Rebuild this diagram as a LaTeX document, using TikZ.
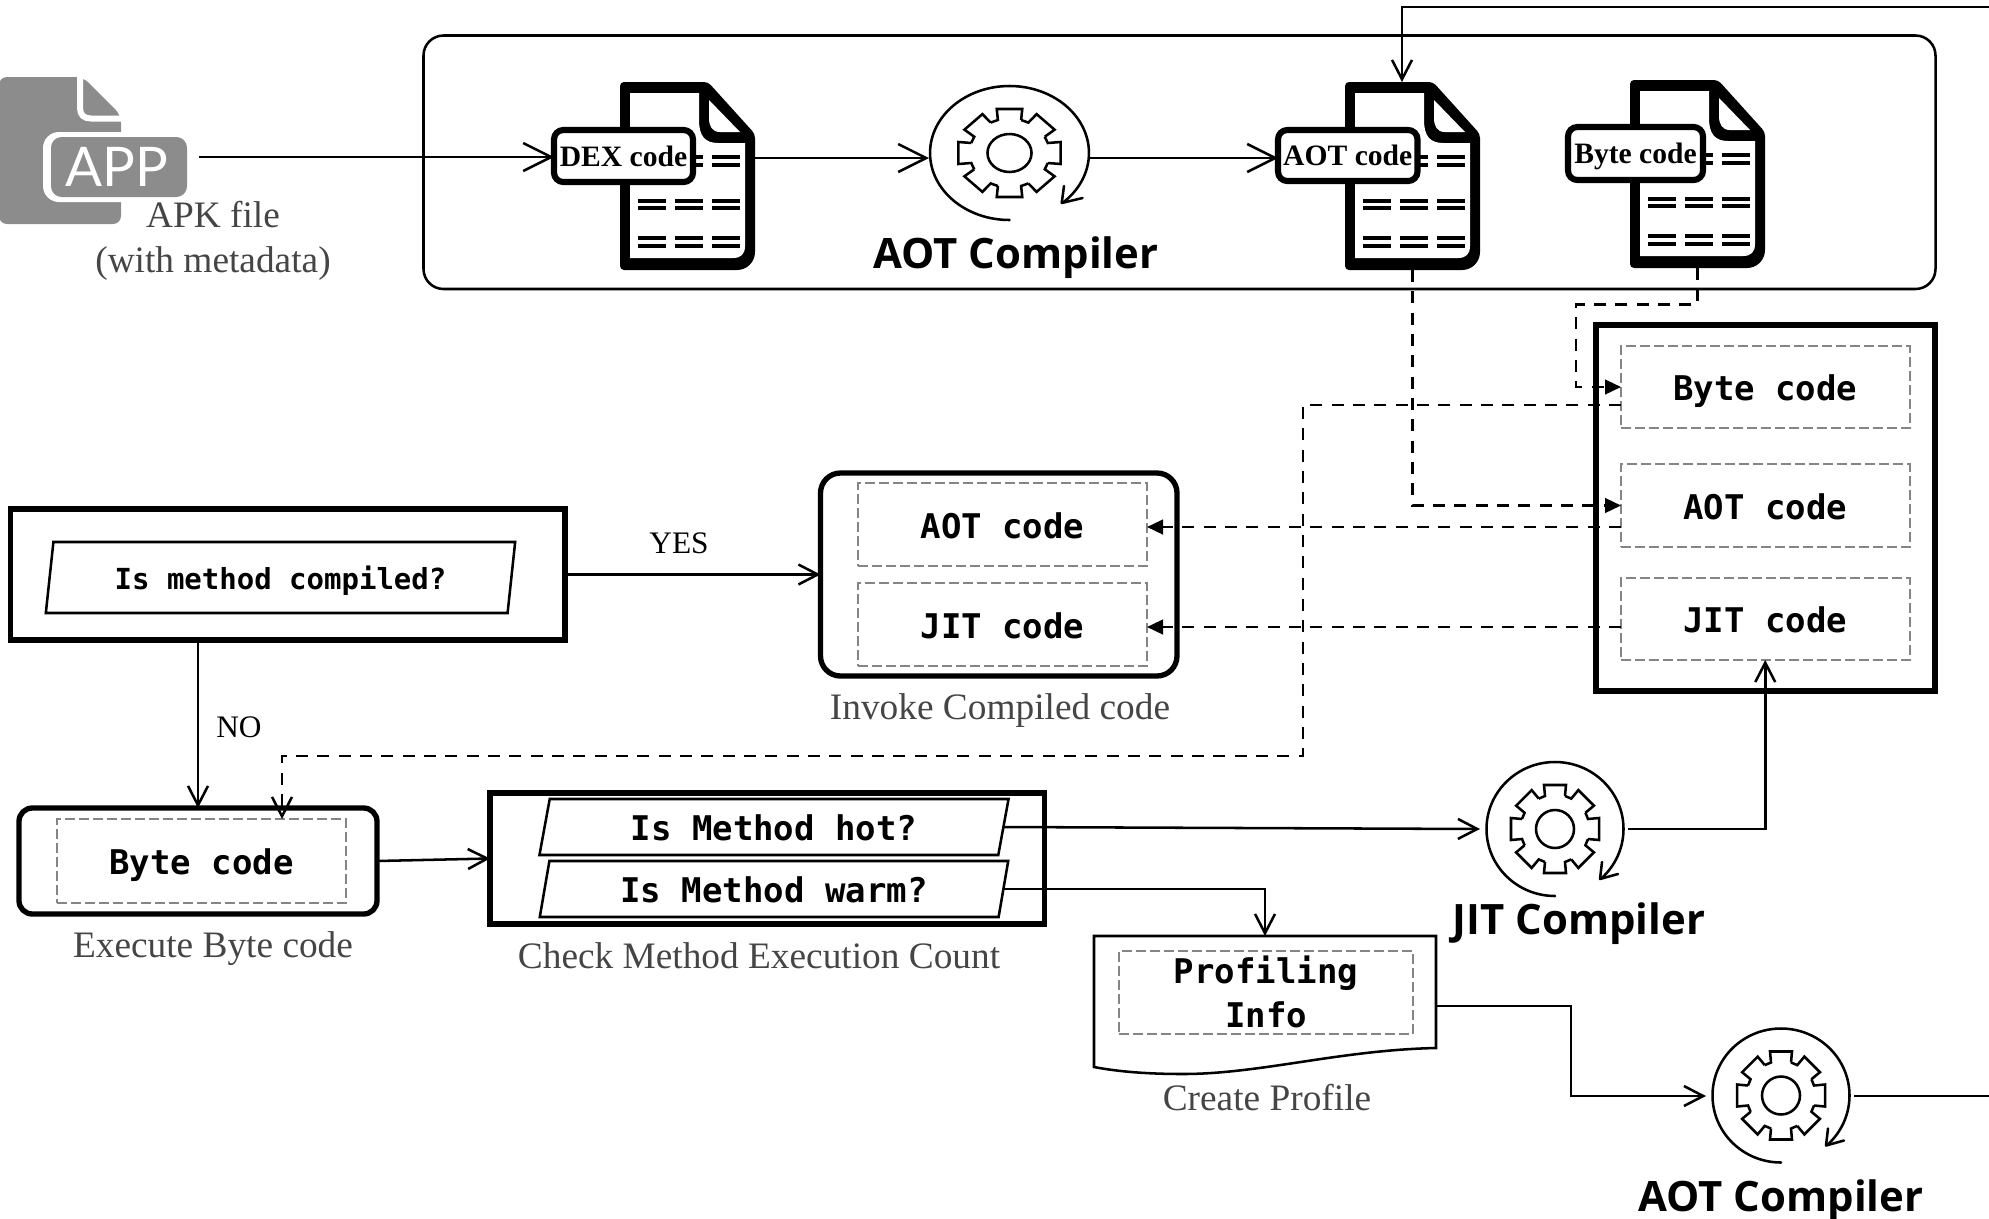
\documentclass[tikz,border=0pt]{standalone}
\usepackage{fontspec}
\usetikzlibrary{arrows.meta,shapes.geometric}
\setmainfont{Liberation Serif}
\newfontfamily\monof{DejaVu Sans Mono}
\newfontfamily\sansf{Open Sans}
\newfontfamily\latof{Lato}
\definecolor{capgray}{HTML}{454545}
\definecolor{icongray}{HTML}{8C8C8C}
\definecolor{dashgray}{HTML}{858585}
\newcommand\bx[7][]{\node[#1,minimum width={(#5-(#3))*0.75pt},minimum height={(#6-(#4))*0.75pt}] (#2) at ({(#3+#5)/2},{(#4+#6)/2}) {#7};}
\newcommand\docicon[2]{\begin{scope}[shift={(#1,#2)}]
 \fill[rounded corners=3pt] (0,0) -- (88,0) -- (135,52) -- (135,166) .. controls (135,180) and (127,188) .. (113,188) -- (0,188) -- cycle;
 \fill[white] (10,11) -- (79,11) -- (79,38) .. controls (79,54) and (85,61) .. (98,61) -- (125,61) -- (125,164) .. controls (125,172) and (121,176) .. (113,176) -- (10,176) -- cycle;
 \fill[white] (89,18) -- (120,50) -- (100,50) .. controls (92,50) and (89,44) .. (89,36) -- cycle;
 \foreach \yy in {75,83,119,126,156,164}{\foreach \xx in {18,55,92}{\draw[line width=2.6pt] (\xx,\yy) -- ++(28,0);}}
\end{scope}}
\newcommand\gearicon[3]{\begin{scope}[shift={(#1,#2)},xscale=#3]
 \foreach \a in {0,45,...,315}{
  \draw[geart,line join=miter] ([rotate=\a]33,10) -- ([rotate=\a]44,11) -- ([rotate=\a]44,-11) -- ([rotate=\a]33,-10) -- ([rotate=\a+45]33,10);
 }
 \draw[geart] (0,0) ellipse [x radius=19,y radius=19];
 \draw[geart,line cap=round] (0,67) arc [start angle=90,end angle=408,x radius=68.5,y radius=67];
 \draw[geart,line cap=round,line join=round] (63,45) -- (45,50) -- (47,33);
\end{scope}}
\tikzset{
 geart/.style={line width=1.9pt},
 conn/.style={line width=1.9pt,draw=black},
 bigtip/.style={-{Straight Barb[length=21pt,width=21pt,line width=1.9pt]}},
 smalltip/.style={-{Straight Barb[length=14.5pt,width=15pt,line width=1.9pt]}},
 dashc/.style={line width=1.8pt,dash pattern=on 9pt off 7pt},
 filltip/.style={-{Triangle[length=12pt,width=11pt]}},
 plain/.style={inner sep=0pt,outer sep=0pt},
 heavy/.style={plain,draw,line width=4pt},
 heavyr/.style={plain,draw,line width=4pt,rounded corners=15pt},
 heavys/.style={plain,draw,line width=4pt,rounded corners=10pt},
 inbox/.style={plain,draw=dashgray,line width=1.5pt,dash pattern=on 7.5pt off 3pt},
 para/.style={plain,draw,line width=1.9pt,shape=trapezium,trapezium left angle=76.5,trapezium right angle=103.5,trapezium stretches=true},
 codebig/.style={text height=20.5pt,text depth=0pt,font=\monof\bfseries\fontsize{25.5pt}{33.75pt}\selectfont},
 codesmall/.style={text height=17.3pt,text depth=0pt,font=\monof\bfseries\fontsize{21.75pt}{26pt}\selectfont},
 capt/.style={plain,anchor=base,text=capgray,font=\fontsize{28pt}{33pt}\selectfont},
 lab/.style={plain,anchor=base,font=\fontsize{23.5pt}{28pt}\selectfont},
 comp/.style={plain,anchor=base,font=\sansf\bfseries\fontsize{31.4pt}{38pt}\selectfont},
 tag/.style={plain,draw,fill=white,line width=4.6pt,rounded corners=7pt,text height=15pt,text depth=0pt,font=\bfseries\fontsize{22.2pt}{26pt}\selectfont},
}
\begin{document}
\begin{tikzpicture}[x=0.75pt,y=-0.75pt]
\useasboundingbox (0,0) rectangle (1989,1218);
% APK icon
\fill[icongray,rounded corners=6pt] (-1,77) -- (83,77) -- (121,115) -- (121,224) -- (-1,224) -- cycle;
\draw[white,line width=4.5pt] (80,72) -- (80,108) .. controls (80,115) and (84,118.5) .. (91,118.5) -- (126,118.5);
\fill[white,rounded corners=12pt] (43,132) rectangle (195,202);
\fill[icongray,rounded corners=8pt] (51,137) rectangle (187,197);
\node[plain,text=white,font=\latof\fontsize{41pt}{44pt}\selectfont] (apptext) at (117,166.5) {APP};
\node[capt] (apkcap) at (213,227) {APK file};
\node[capt] (apkcap2) at (213,272) {(with metadata)};
\bx[plain]{apk}{0}{77}{199}{224}{}
% main container
\bx[plain,draw,line width=1.9pt,rounded corners=15pt]{main}{423.5}{35.5}{1935.5}{289}{}
% documents
\docicon{620}{82}
\docicon{1345}{82}
\docicon{1630}{80}
\bx[plain]{docdex}{620}{82}{755}{270}{}
\bx[plain]{docaot}{1345}{82}{1480}{270}{}
\bx[plain]{docbyte}{1630}{80}{1765}{268}{}
\bx[tag]{dex}{554}{130}{693}{182}{DEX code}
\bx[tag]{aotl}{1278}{130}{1417.5}{181}{AOT code}
\bx[tag]{bytel}{1568}{127}{1703}{180}{Byte code}
% compilers
\bx[plain]{gearA}{929}{86}{1090}{230}{}
\bx[plain]{gearJ}{1480}{762}{1628}{896}{}
\bx[plain]{gearB}{1706}{1028}{1854}{1164}{}
\gearicon{1009.5}{153}{1.16}
\gearicon{1555}{829}{1}
\gearicon{1781}{1095.5}{1}
\node[comp] (compA) at (1016,268) {AOT Compiler};
\node[comp] (compJ) at (1579,934) {JIT Compiler};
\node[comp] (compB) at (1781,1211) {AOT Compiler};
% storage
\bx[heavy]{store}{1596}{325}{1935}{691}{}
\bx[inbox,codebig]{stbyte}{1621}{346}{1909.5}{428}{Byte code}
\bx[inbox,codebig]{staot}{1621}{464}{1909.5}{547}{AOT code}
\bx[inbox,codebig]{stjit}{1621}{578}{1909.5}{660}{JIT code}
% invoke
\bx[heavyr]{invoke}{820.5}{473}{1177}{676}{}
\bx[inbox,codebig]{inaot}{858}{483}{1147}{566}{AOT code}
\bx[inbox,codebig]{injit}{858}{583}{1147}{666}{JIT code}
\node[capt] (invcap) at (1000,719) {Invoke Compiled code};
% condition
\bx[heavy]{cond}{10.5}{509}{565}{640}{}
\bx[para,codesmall]{condq}{45}{542}{516}{613}{Is method compiled?}
% execute
\bx[heavys]{exec}{19}{808}{377}{914}{}
\bx[inbox,codebig]{execin}{57}{819}{346}{903}{Byte code}
\node[capt] (execcap) at (213,957) {Execute Byte code};
% check
\bx[heavy]{check}{490}{793}{1044.5}{924}{}
\bx[para,codebig]{hot}{539}{799}{1009}{855}{Is Method hot?}
\bx[para,codebig]{warm}{539}{861}{1009}{917}{Is Method warm?}
\node[capt] (checkcap) at (759,968) {Check Method Execution Count};
% profile
\bx[plain]{profile}{1094}{936}{1436}{1076}{}
\draw[line width=1.9pt,line join=miter] (1094,936) -- (1436,936) -- (1436,1048) .. controls (1340,1050) and (1260,1074) .. (1183,1074) .. controls (1150,1074) and (1120,1072) .. (1094,1067) -- cycle;
\bx[inbox,codebig,align=center]{profin}{1119}{951}{1413}{1034}{}
\node[plain,codebig] (proft) at (1266,970) {Profiling};
\node[plain,codebig] (profi) at (1266,1014) {Info};
\node[capt] (profcap) at (1267,1110) {Create Profile};
% labels
\node[lab] (yes) at (679,553) {YES};
\node[lab] (no) at (239,737) {NO};
% helper coordinates
\coordinate (r1) at (0,158);
\coordinate (edgeA) at (1989,7);
\coordinate (a1) at (1402,7);
\coordinate (edgeB) at (1989,1096);
\coordinate (k1) at (1576,304.5);
\coordinate (k2) at (1571,1096);
\coordinate (k3) at (1605,387);
\coordinate (k4) at (1605,505.5);
\coordinate (b1) at (1303,405);
\coordinate (b2) at (282,756);
\coordinate (b3) at (1303,756);
\coordinate (ya) at (0,527);
\coordinate (yj) at (0,627);
\coordinate (ybt) at (0,157);
\coordinate (xn) at (198,805);
% solid connectors
\draw[conn,bigtip] (apk.east |- ybt) -- (dex.west |- ybt);
\draw[conn,bigtip] (docdex.east |- r1) -- (gearA.west |- r1);
\draw[conn,bigtip] (gearA.east) -- (aotl.west |- r1);
\draw[conn,smalltip] (edgeA) -- (a1) -- (a1 |- docaot.north);
\draw[conn,smalltip] (cond.east) -- (invoke.west |- cond.east);
\draw[conn,smalltip] (xn |- cond.south) -- (xn |- exec.north);
\draw[conn,smalltip] (exec.east) -- (check.west);
\draw[conn,smalltip] (hot.east) -- (gearJ.west);
\draw[conn,smalltip] (warm.east) -| (profile.north);
\draw[conn,smalltip] (gearJ.east) -| (stjit.south);
\draw[conn,smalltip] (profile.east) -| (k2) -- (gearB.west);
\draw[conn] (gearB.east) -- (edgeB);
% dashed connectors
\draw[dashc] (docaot.south) |- (k4);
\draw[line width=1.8pt,filltip] (k4) -- (staot.west);
\draw[dashc] (docbyte.south) |- (k1) -- (k1 |- k3) -- (k3);
\draw[line width=1.8pt,filltip] (k3) -- (stbyte.west);
\draw[dashc,smalltip] (stbyte.west |- b1) -- (b1) -- (b3) -- (b2) -- (b2 |- execin.north);
\draw[dashc,filltip] (staot.west |- ya) -- (inaot.east |- ya);
\draw[dashc,filltip] (stjit.west |- yj) -- (injit.east |- yj);
\end{tikzpicture}
\end{document}
